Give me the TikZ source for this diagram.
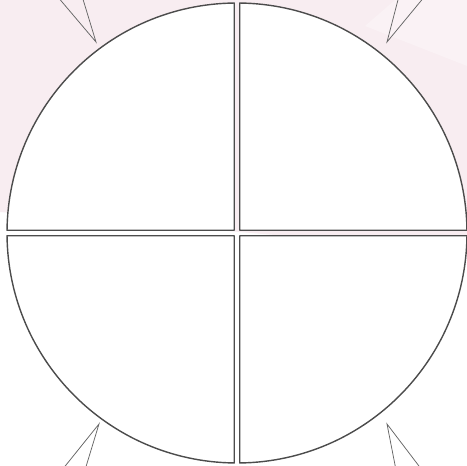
\documentclass[tikz,border=0pt]{standalone}
\begin{document}
\begin{tikzpicture}[x=1pt,y=1pt,
  quad/.style={draw=black!70,line width=1.4pt,fill=white,line join=round},
  spike/.style={draw=black!60,line width=0.75pt,line join=miter}]
\definecolor{bgpink}{RGB}{248,237,241}
\definecolor{bglight}{RGB}{250,242,245}
\useasboundingbox (0,0) rectangle (467,466);
\clip (0,0) rectangle (467,466);
% background
\fill[white] (0,0) rectangle (467,466);
\fill[bgpink] (0,466) -- (467,466) -- (467,215) -- (0,254) -- cycle;
\fill[bglight] (395,466) -- (467,466) -- (467,400) -- (365,440) -- cycle;
\coordinate (C) at (237,233);
% spikes
\coordinate (tlA) at (96,424);
\draw[spike] (57,470) -- (tlA) -- (82,470);
\coordinate (trA) at (387,424);
\draw[spike] (399,470) -- (trA) -- (425,470);
\coordinate (blA) at (99,42);
\draw[spike] (62,-4) -- (blA) -- (85,-4);
\coordinate (brA) at (387,42);
\draw[spike] (396,-4) -- (brA) -- (422,-4);
% quadrants
\def\g{2.75}
\path[quad] ([shift={(\g,\g)}]C) -- ([shift={(C)}]0.685:230) arc[start angle=0.685,end angle=89.315,radius=230] -- cycle;
\path[quad] ([shift={(-\g,\g)}]C) -- ([shift={(C)}]90.685:230) arc[start angle=90.685,end angle=179.315,radius=230] -- cycle;
\path[quad] ([shift={(-\g,-\g)}]C) -- ([shift={(C)}]180.685:230) arc[start angle=180.685,end angle=269.315,radius=230] -- cycle;
\path[quad] ([shift={(\g,-\g)}]C) -- ([shift={(C)}]270.685:230) arc[start angle=270.685,end angle=359.315,radius=230] -- cycle;
\end{tikzpicture}
\end{document}
